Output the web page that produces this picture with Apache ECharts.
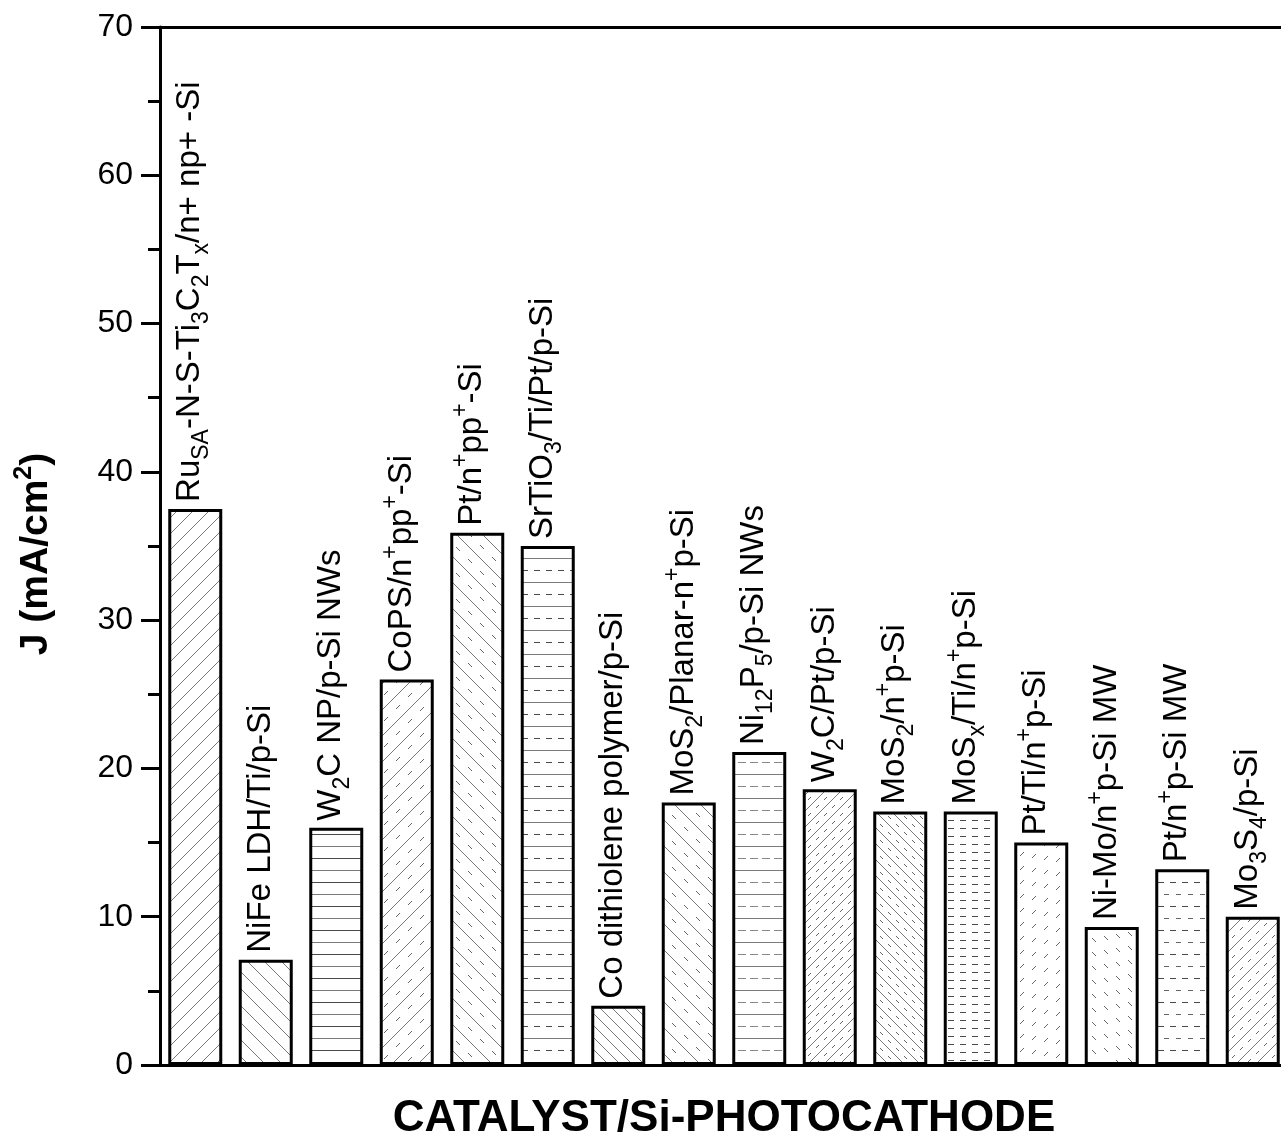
<!DOCTYPE html>
<html><head><meta charset="utf-8">
<script src="https://cdn.jsdelivr.net/npm/echarts@6/dist/echarts.min.js"></script>
<style>html,body{margin:0;padding:0;background:#fff}#c{width:1281px;height:1138px}</style>
</head><body><div id="c"></div>
<script>
// ---- data ----
const categories = [
  'Ru_{SA}-N-S-Ti_{3}C_{2}T_{x}/n+ np+ -Si',
  'NiFe LDH/Ti/p-Si',
  'W_{2}C NP/p-Si NWs',
  'CoPS/n^{+}pp^{+}-Si',
  'Pt/n^{+}pp^{+}-Si',
  'SrTiO_{3}/Ti/Pt/p-Si',
  'Co dithiolene polymer/p-Si',
  'MoS_{2}/Planar-n^{+}p-Si',
  'Ni_{12}P_{5}/p-Si NWs',
  'W_{2}C/Pt/p-Si',
  'MoS_{2}/n^{+}p-Si',
  'MoS_{x}/Ti/n^{+}p-Si',
  'Pt/Ti/n^{+}p-Si',
  'Ni-Mo/n^{+}p-Si MW',
  'Pt/n^{+}p-Si MW',
  'Mo_{3}S_{4}/p-Si'
];
const currentDensity = [37.5, 7.1, 16, 26, 35.9, 35, 4, 17.7, 21.1, 18.6, 17.1, 17.1, 15, 9.3, 13.2, 10];
const yMin = 0, yMax = 70, yStep = 10;
const xTitle = 'CATALYST/Si-PHOTOCATHODE';
const yTitle = 'J (mA/cm{s|2})';

// ---- styles ----
const FONT = 'Liberation Sans';
const patternSpecs = [
  {dir:'/', gap:16, seq:['s']},
  {dir:'\\', gap:17, seq:['s']},
  {dir:'-', gap:12, seq:['s','S']},
  {dir:'/', gap:13, seq:['s','d']},
  {dir:'\\', gap:13, seq:['s','d']},
  {dir:'-', gap:12, seq:['s','D']},
  {dir:'\\', gap:12, seq:['s']},
  {dir:'\\', gap:13, seq:['s','d']},
  {dir:'-', gap:12, seq:['s','o']},
  {dir:'/', gap:8, seq:['s','d']},
  {dir:'\\', gap:8, seq:['s','d']},
  {dir:'-', gap:8, seq:['D']},
  {dir:'/', gap:14, seq:['d']},
  {dir:'\\', gap:14, seq:['d']},
  {dir:'-', gap:12, seq:['d','D']},
  {dir:'/', gap:10, seq:['s','d']}
];
function gcd(a,b){return b?gcd(b,a%b):a;}
function lcm(a,b){return a*b/gcd(a,b);}
function lineStyleOf(code){
  switch(code){
    case 's': return {c:'#7a7a7a', dash:null};
    case 'S': return {c:'#4a4a4a', dash:null};
    case 'd': return {c:'#666', dash:[5,7]};
    case 'D': return {c:'#4a4a4a', dash:[6,6]};
    case 'o': return {c:'#888', dash:[8,4]};
  }
}
function makePattern(sp){
  const per = sp.seq.length;
  const P = 12;
  let W, H;
  if (sp.dir === '-') { H = sp.gap*per; W = 24; }
  else { W = lcm(sp.gap*per, sp.gap <= 10 ? 8 : P); while (W < 24) { W *= 2; } H = W; }
  const Pd = (sp.dir !== '-' && sp.gap <= 10) ? 8 : P;
  const cv = document.createElement('canvas');
  cv.width = W; cv.height = H;
  const ctx = cv.getContext('2d');
  ctx.fillStyle = '#fff'; ctx.fillRect(0,0,W,H);
  ctx.lineWidth = 1;
  function seg(x1,y1,x2,y2,color){ctx.strokeStyle=color;ctx.beginPath();ctx.moveTo(x1,y1);ctx.lineTo(x2,y2);ctx.stroke();}
  if (sp.dir === '-') {
    for (let k=0;k<per;k++){
      const st = lineStyleOf(sp.seq[k]);
      const y = k*sp.gap + 0.5 + Math.floor(sp.gap/2);
      if (!st.dash) seg(-1,y,W+1,y,st.c);
      else { const D = st.dash[0], p = st.dash[0]+st.dash[1]; const off = (k%2)*Math.floor(p/2);
        for (let x0=-p; x0<W+p; x0+=p) seg(x0+off,y,x0+off+D,y,st.c); }
    }
  } else {
    const T = W, g = sp.gap;
    const cs = [];
    if (sp.dir === '/') { for (let c=0, k=0; c<=2*T; c+=g, k++) cs.push([c,k]); }
    else { for (let c=-T, k=0; c<=T; c+=g, k++) cs.push([c,k]); }
    cs.forEach(([c,k])=>{
      const st = lineStyleOf(sp.seq[k%per]);
      const f = (x)=> sp.dir === '/' ? c - x : x + c;
      if (!st.dash) seg(-2, f(-2), T+2, f(T+2), st.c);
      else {
        const D = Pd === 8 ? 3 : 4;
        for (let x0=0; x0<T; x0+=Pd) seg(x0, f(x0), x0+D, f(x0+D), st.c);
      }
    });
  }
  return {image: cv, repeat: 'repeat'};
}
function toRich(s){
  return s.replace(/_\{([^}]*)\}/g,'{sub|$1}').replace(/\^\{([^}]*)\}/g,'{sup|$1}');
}
function toPlain(s){
  return s.replace(/[_^]\{([^}]*)\}/g,'$1');
}
const labelRich = {
  sub: {fontSize:23, fontFamily:FONT, fill:'#000', verticalAlign:'bottom', lineHeight:24},
  sup: {fontSize:23, fontFamily:FONT, fill:'#000', verticalAlign:'top', lineHeight:24}
};

const chart = echarts.init(document.getElementById('c'));
const axisLineStyle = {color:'#000', width:3};
chart.setOption({
  animation:false,
  backgroundColor:'#fff',
  grid:{left:160, top:27, right:-7, bottom:73, containLabel:false, outerBoundsMode:'none'},
  xAxis:[{
    type:'category', data: categories.map(toPlain), position:'bottom',
    axisLine:{show:true, lineStyle:axisLineStyle}, axisTick:{show:false}, axisLabel:{show:false},
    splitLine:{show:false},
    name: xTitle, nameLocation:'middle', nameGap:32,
    nameTextStyle:{fontSize:44, fontWeight:'bold', fontFamily:FONT, color:'#000', verticalAlign:'top'}
  },{
    type:'category', data: categories.map(toPlain), position:'top',
    axisLine:{show:true, lineStyle:axisLineStyle}, axisTick:{show:false}, axisLabel:{show:false}, splitLine:{show:false}
  }],
  yAxis:{
    type:'value', min:yMin, max:yMax, interval:yStep,
    axisLine:{show:true, lineStyle:axisLineStyle},
    axisTick:{show:true, inside:false, length:19, lineStyle:{color:'#000', width:3}},
    minorTick:{show:true, splitNumber:2, length:12, lineStyle:{color:'#000', width:3}},
    splitLine:{show:false},
    axisLabel:{fontSize:32, fontFamily:FONT, color:'#000', margin:27},
    name: yTitle, nameLocation:'middle', nameGap:100,
    nameTextStyle:{fontSize:39, fontWeight:'bold', fontFamily:FONT, color:'#000', lineHeight:48,
      padding:[0,16,0,0],
      rich:{s:{fontSize:25, fontWeight:'bold', fontFamily:FONT, color:'#000', verticalAlign:'top', lineHeight:24}}}
  },
  series:[{
    type:'bar', barWidth:54, xAxisIndex:0,
    data: currentDensity.map((v,i)=>({value:v, itemStyle:{color: makePattern(patternSpecs[i])}})),
    itemStyle:{borderColor:'#000', borderWidth:3},
    emphasis:{disabled:true}
  },{
    type:'custom', xAxisIndex:0, silent:true, z:10,
    data: currentDensity.map((v,i)=>[i,v]),
    renderItem:function(params, api){
      const i = api.value(0), v = api.value(1);
      const p = api.coord([i, v]);
      return {
        type:'text', x:p[0]-5, y:p[1]-7, rotation:Math.PI/2,
        style:{text: toRich(categories[i]), fill:'#000', fontSize:33, fontFamily:FONT,
               align:'left', verticalAlign:'middle', lineHeight:46, rich: labelRich}
      };
    }
  }]
});
</script></body></html>
